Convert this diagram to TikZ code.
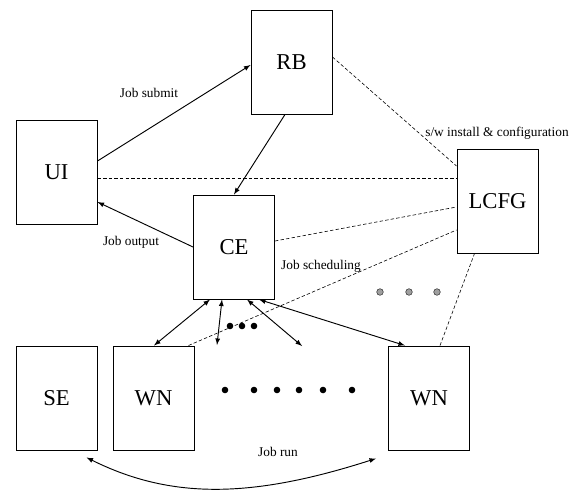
\documentclass[tikz,border=0pt]{standalone}
\usepackage{fontspec}
\setmainfont{Liberation Serif}
\usetikzlibrary{%
  arrows,%
  calc%
}
\tikzset{>=latex}
\tikzset{box/.style = {draw, line width=0.75pt, minimum width=60.75pt,
        minimum height=78pt, inner sep=0pt, font=\fontsize{17}{20}\selectfont},%
        link/.style = {dashed, line width=0.45pt, dash pattern=on 2.6pt off 1.6pt},%
        flow/.style = {line width=0.7pt},%
        lbl/.style = {font=\fontsize{10}{12}\selectfont, inner sep=0pt},%
        blob/.style = {fill=black},%
        greyblob/.style = {fill=gray!75, draw=gray!40!black, line width=0.4pt}}

\begin{document}
\begin{tikzpicture}[x=0.75pt,y=-0.75pt]
    \useasboundingbox (0,0) rectangle (577,489);
    % boxes
    \node[box] (RB) at (291.5,62) {RB};
    \node[box] (UI) at (56.5,172) {UI};
    \node[box] (CE) at (234,247) {CE};
    \node[box] (LCFG) at (497.5,201) {LCFG};
    \node[box] (SE) at (56.5,398) {SE};
    \node[box] (WN1) at (153.5,398) {WN};
    \node[box] (WN2) at (429,398) {WN};
    % labels
    \node[lbl] (submit) at (149,93) {Job submit};
    \node[lbl] (install) at (497,133) {s/w install \& configuration};
    \node[lbl] (output) at (131,242) {Job output};
    \node[lbl] (sched) at (321,266) {Job scheduling};
    \node[lbl] (run) at (278,452) {Job run};
    % free ends
    \coordinate (e1) at (217,345);
    \coordinate (e2) at (302,346);
    \coordinate (runL) at ($(SE.south east)+(-11,7)$);
    \coordinate (runR) at ($(WN2.south west)+(-12,8)$);
    % job flow
    \draw[flow,->] ($(UI.east)+(0,-11)$) -- ($(RB.west)+(0,3)$);
    \draw[flow,->] ($(RB.south)+(-6.5,0)$) -- (CE.north);
    \draw[flow,->] (CE.west) -- ($(UI.east)+(0,30)$);
    \draw[flow,<->] ($(CE.south)+(-24,0)$) -- ($(WN1.north)+(0.5,0)$);
    \draw[flow,<->] ($(CE.south)+(-12,0)$) -- (e1);
    \draw[flow,<->] ($(CE.south)+(13,0)$) -- (e2);
    \draw[flow,<->] ($(CE.south)+(25,0)$) -- ($(WN2.north)+(-24,0)$);
    \draw[flow,<->] (runL) .. controls (170,499) and (250,499) .. (runR);
    % configuration links
    \draw[link] ($(UI.east)+(0,6)$) -- ($(LCFG.west)+(0,-23)$);
    \draw[link] ($(RB.east)+(0,-5)$) -- ($(LCFG.west)+(0,-35)$);
    \draw[link] ($(CE.east)+(0,-6)$) -- ($(LCFG.west)+(0,6)$);
    \draw[link] ($(WN1.north east)+(-6,0)$) -- ($(LCFG.west)+(0,29)$);
    \draw[link] ($(WN2.north)+(11,0)$) -- ($(LCFG.south)+(-23,0)$);
    % dots
    \foreach \x in {230,242,254}
      \fill[blob] (\x,326) circle (3.3);
    \foreach \x in {225,254,277,299,323,352}
      \fill[blob] (\x,390) circle (3.3);
    \foreach \x in {380,409,437}
      \filldraw[greyblob] (\x,292) circle (3.3);
  \end{tikzpicture}
\end{document}
